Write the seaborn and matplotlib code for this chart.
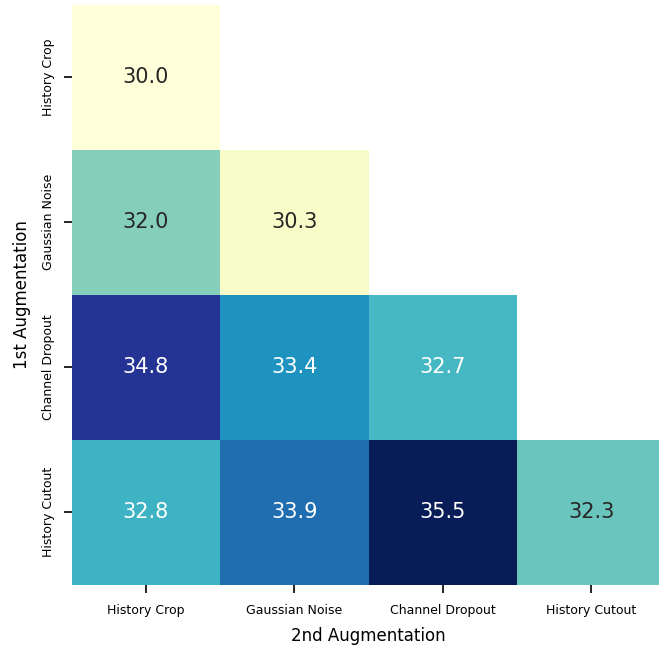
import numpy as np
import pandas as pd
import seaborn as sns
import matplotlib
matplotlib.use("Agg")
import matplotlib.pyplot as plt

labels = ["History Crop", "Gaussian Noise", "Channel Dropout", "History Cutout"]
row_history_crop = [30.0, np.nan, np.nan, np.nan]
row_gaussian_noise = [32.0, 30.3, np.nan, np.nan]
row_channel_dropout = [34.8, 33.4, 32.7, np.nan]
row_history_cutout = [32.8, 33.9, 35.5, 32.3]

df = pd.DataFrame([row_history_crop, row_gaussian_noise, row_channel_dropout, row_history_cutout],
                  index=labels, columns=labels)

sns.set_style("white")
plt.rcParams['font.family'] = ['DejaVu Sans']

fig = plt.figure(figsize=(6.59, 6.49), dpi=100)
W, H = 659, 649
ax = fig.add_axes([71.5 / W, (H - 584.5) / H, 594 / W, 579.5 / H])
sns.heatmap(df, ax=ax, cmap="YlGnBu", annot=True, fmt=".1f", cbar=False,
            annot_kws={"fontsize": 15}, square=False)
ax.set_xlabel("2nd Augmentation", fontsize=12, labelpad=7.5, color="black")
ax.set_ylabel("1st Augmentation", fontsize=12, labelpad=7.5, color="black")
ax.tick_params(axis="both", which="both", length=6, width=1.2, labelsize=9,
               bottom=True, left=True, colors="black")
ax.tick_params(axis="x", pad=8)
ax.tick_params(axis="y", pad=6)
ax.set_yticklabels(labels, rotation=90, va="center")
ax.set_xticklabels(labels, rotation=0)
fig.savefig("out.png", dpi=100)
